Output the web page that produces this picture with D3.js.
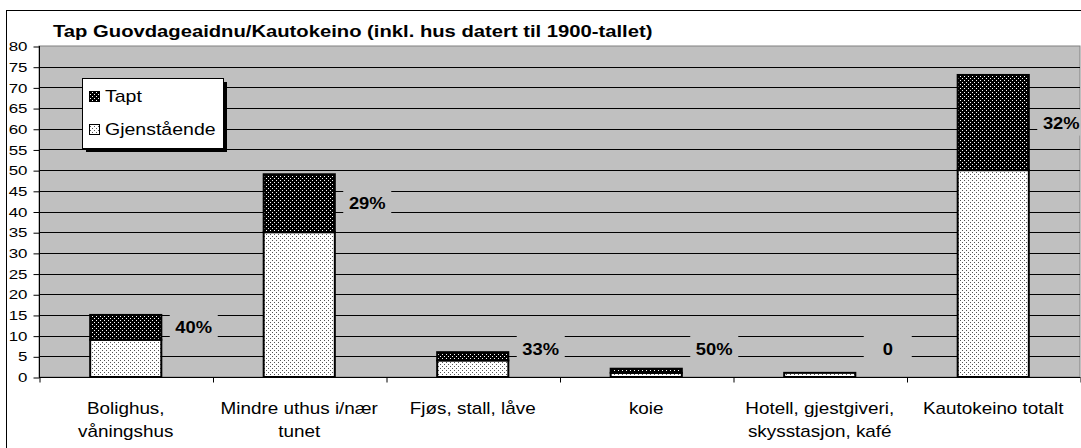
<!DOCTYPE html>
<html>
<head>
<meta charset="utf-8">
<script src="https://cdn.jsdelivr.net/npm/d3@7"></script>
<style>
  body { margin: 0; background: #fff; }
  text { font-family: "Liberation Sans", Arial, sans-serif; }
</style>
</head>
<body>
<div id="chart"></div>
<script>
// Data
var categories = [
  ["Bolighus,", "våningshus"],
  ["Mindre uthus i/nær", "tunet"],
  ["Fjøs, stall, låve"],
  ["koie"],
  ["Hotell, gjestgiveri,", "skysstasjon, kafé"],
  ["Kautokeino totalt"]
];
var gjenstaende = [9, 35, 4, 1, 1, 50];
var tapt = [6, 14, 2, 1, 0, 23];
var pctLabels = ["40%", "29%", "33%", "50%", "0", "32%"];
var yTicks = d3.range(0, 81, 5);
var seriesNames = ["Tapt", "Gjenstående"];

var width = 1081, height = 448;
var plot = { left: 39, right: 1080, top: 46, bottom: 377 };

var svg = d3.select("#chart").append("svg")
  .attr("width", width)
  .attr("height", height);

// the original chart text is drawn a bit wider than normal Arial
function stretch(sel, s) {
  sel.each(function () {
    var ax = +d3.select(this).attr("x") || 0;
    d3.select(this).attr("transform",
      "translate(" + ax + ",0) scale(" + s + ",1) translate(" + (-ax) + ",0)");
  });
}

// patterns for the two series
var defs = svg.append("defs");
var pT = defs.append("pattern").attr("id", "patTapt")
  .attr("patternUnits", "userSpaceOnUse").attr("width", 4).attr("height", 4);
pT.append("rect").attr("width", 4).attr("height", 4).attr("fill", "#000");
pT.append("rect").attr("x", 0).attr("y", 0).attr("width", 1).attr("height", 1).attr("fill", "#fff");
pT.append("rect").attr("x", 2).attr("y", 2).attr("width", 1).attr("height", 1).attr("fill", "#fff");

var pG = defs.append("pattern").attr("id", "patGj")
  .attr("patternUnits", "userSpaceOnUse").attr("width", 4).attr("height", 4);
pG.append("rect").attr("width", 4).attr("height", 4).attr("fill", "#fff");
pG.append("rect").attr("x", 0).attr("y", 0).attr("width", 1).attr("height", 1).attr("fill", "#555");
pG.append("rect").attr("x", 2).attr("y", 2).attr("width", 1).attr("height", 1).attr("fill", "#555");

// outer chart frame
svg.append("rect")
  .attr("x", 6.5).attr("y", 10.5)
  .attr("width", width + 10).attr("height", height + 10)
  .attr("fill", "#fff").attr("stroke", "#000");

svg.append("text")
  .attr("x", 53).attr("y", 37)
  .attr("font-size", 17).attr("font-weight", "bold")
  .text("Tap Guovdageaidnu/Kautokeino (inkl. hus datert til 1900-tallet)")
  .call(stretch, 1.19);

// scales
var x = d3.scaleBand()
  .domain(d3.range(categories.length))
  .range([plot.left, plot.right])
  .padding(0);
var y = d3.scaleLinear().domain([0, 80]).range([plot.bottom, plot.top]);
var barW = x.bandwidth() * 0.41;

// plot background
svg.append("rect")
  .attr("x", plot.left).attr("y", plot.top)
  .attr("width", plot.right - plot.left).attr("height", plot.bottom - plot.top)
  .attr("fill", "#c0c0c0").attr("stroke", "#808080");

// gridlines
svg.append("g").selectAll("line")
  .data(yTicks.filter(function (d) { return d > 0 && d < 80; }))
  .enter().append("line")
  .attr("x1", plot.left).attr("x2", plot.right)
  .attr("y1", function (d) { return Math.round(y(d)) + 0.5; })
  .attr("y2", function (d) { return Math.round(y(d)) + 0.5; })
  .attr("stroke", "#000");

// y axis
var yAxis = d3.axisLeft(y).tickValues(yTicks).tickSize(6).tickPadding(6);
var gy = svg.append("g").attr("transform", "translate(" + (plot.left + 0.5) + ",0.5)").call(yAxis);
gy.select(".domain").remove();
gy.selectAll("text")
  .attr("font-size", 13).attr("font-family", "Liberation Sans, Arial").attr("fill", "#000")
  .call(stretch, 1.3);
svg.append("line")
  .attr("x1", plot.left + 0.5).attr("x2", plot.left + 0.5)
  .attr("y1", plot.top).attr("y2", plot.bottom + 1)
  .attr("stroke", "#000");

// x axis
var xAxis = d3.axisBottom(d3.scaleLinear().domain([0, categories.length]).range([plot.left, plot.right]))
  .tickValues(d3.range(categories.length + 1)).tickSize(5).tickFormat("");
var gx = svg.append("g").attr("transform", "translate(0.5," + (plot.bottom + 0.5) + ")").call(xAxis);
gx.select(".domain").attr("d", "M" + plot.left + ",0H" + plot.right);

// category labels
var catG = svg.append("g").selectAll("text")
  .data(categories)
  .enter().append("text")
  .attr("text-anchor", "middle")
  .attr("font-size", 16)
  .attr("x", function (d, i) { return x(i) + x.bandwidth() / 2; })
  .attr("y", 414);
catG.selectAll("tspan")
  .data(function (d) { return d; })
  .enter().append("tspan")
  .attr("x", function () { return d3.select(this.parentNode).attr("x"); })
  .attr("dy", function (d, i) { return i ? 23 : 0; })
  .text(function (d) { return d; });
catG.call(stretch, 1.18);

// stacked bars
var bars = svg.append("g");
categories.forEach(function (c, i) {
  var bx = x(i) + (x.bandwidth() - barW) / 2;
  var g0 = gjenstaende[i], t0 = tapt[i];
  bars.append("rect")
    .attr("x", bx).attr("y", y(g0))
    .attr("width", barW).attr("height", y(0) - y(g0))
    .attr("fill", "url(#patGj)").attr("stroke", "#000").attr("stroke-width", 2);
  if (t0 > 0) {
    bars.append("rect")
      .attr("x", bx).attr("y", y(g0 + t0))
      .attr("width", barW).attr("height", y(g0) - y(g0 + t0))
      .attr("fill", "url(#patTapt)").attr("stroke", "#000").attr("stroke-width", 2);
  }
});

// percentage labels with grey box
var labG = svg.append("g");
pctLabels.forEach(function (p, i) {
  var cx = x(i) + x.bandwidth() / 2 + 68;
  var cy = y(Math.max(gjenstaende[i] + tapt[i] / 2, 6.8));
  labG.append("rect")
    .attr("x", cx - 24).attr("y", cy - 13)
    .attr("width", 48).attr("height", 26)
    .attr("fill", "#c0c0c0");
  labG.append("text")
    .attr("x", cx).attr("y", cy + 6)
    .attr("text-anchor", "middle")
    .attr("font-size", 17).attr("font-weight", "bold")
    .text(p)
    .call(stretch, 1.08);
});

// legend
var leg = svg.append("g");
leg.append("rect").attr("x", 86).attr("y", 82).attr("width", 141).attr("height", 70).attr("fill", "#000");
leg.append("rect").attr("x", 82.5).attr("y", 78.5).attr("width", 141).attr("height", 70)
  .attr("fill", "#fff").attr("stroke", "#000");
seriesNames.forEach(function (s, i) {
  leg.append("rect")
    .attr("x", 89.5).attr("y", 91.5 + i * 33)
    .attr("width", 10).attr("height", 10)
    .attr("fill", i ? "url(#patGj)" : "url(#patTapt)")
    .attr("stroke", "#000");
  leg.append("text")
    .attr("x", 105).attr("y", 102 + i * 33)
    .attr("font-size", 16)
    .text(s)
    .call(stretch, 1.22);
});
</script>
</body>
</html>
